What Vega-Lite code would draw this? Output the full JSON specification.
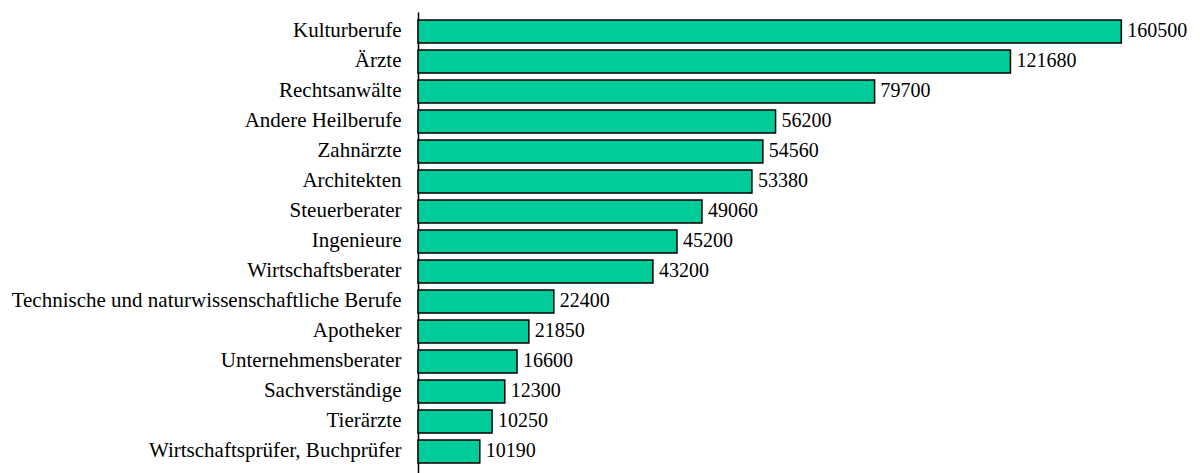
{
  "$schema": "https://vega.github.io/schema/vega-lite/v6.json",
  "width": 780,
  "height": 461,
  "autosize": {"type": "none"},
  "padding": {"left": 418, "top": 12, "right": 2, "bottom": 0},
  "background": "white",
  "config": {"view": {"stroke": null}, "font": "Liberation Serif"},
  "data": {
    "values": [
      {"Beruf": "Kulturberufe", "Anzahl": 160500, "Balken": 160500},
      {"Beruf": "Ärzte", "Anzahl": 121680, "Balken": 135200},
      {"Beruf": "Rechtsanwälte\u00a0", "Anzahl": 79700, "Balken": 104200},
      {"Beruf": "Andere Heilberufe", "Anzahl": 56200, "Balken": 81600},
      {"Beruf": "Zahnärzte", "Anzahl": 54560, "Balken": 78700},
      {"Beruf": "Architekten", "Anzahl": 53380, "Balken": 76200},
      {"Beruf": "Steuerberater", "Anzahl": 49060, "Balken": 64800},
      {"Beruf": "Ingenieure", "Anzahl": 45200, "Balken": 59100},
      {"Beruf": "Wirtschaftsberater", "Anzahl": 43200, "Balken": 53600},
      {"Beruf": "Technische und naturwissenschaftliche Berufe", "Anzahl": 22400, "Balken": 31000},
      {"Beruf": "Apotheker", "Anzahl": 21850, "Balken": 25300},
      {"Beruf": "Unternehmensberater\u00a0", "Anzahl": 16600, "Balken": 22600},
      {"Beruf": "Sachverständige", "Anzahl": 12300, "Balken": 19800},
      {"Beruf": "Tierärzte", "Anzahl": 10250, "Balken": 16900},
      {"Beruf": "Wirtschaftsprüfer, Buchprüfer", "Anzahl": 10190, "Balken": 14100}
    ]
  },
  "encoding": {
    "y": {
      "field": "Beruf",
      "type": "nominal",
      "sort": null,
      "scale": {"paddingInner": 0.233, "paddingOuter": 0.3, "align": 0.44},
      "axis": {
        "title": null,
        "domainColor": "black",
        "domainWidth": 1.5,
        "ticks": false,
        "labelPadding": 17,
        "labelFontSize": 21,
        "labelColor": "black",
        "labelFont": "Liberation Serif",
        "labelLimit": 0
      }
    }
  },
  "layer": [
    {
      "mark": {"type": "bar", "fill": "#00CC99", "stroke": "black", "strokeWidth": 1.5},
      "encoding": {
        "x": {"field": "Balken", "type": "quantitative", "scale": {"domain": [0, 178000], "nice": false}, "axis": null}
      }
    },
    {
      "mark": {"type": "text", "align": "left", "baseline": "middle", "dx": 6, "fontSize": 20, "font": "Liberation Serif", "color": "black"},
      "encoding": {
        "x": {"field": "Balken", "type": "quantitative"},
        "text": {"field": "Anzahl", "type": "quantitative", "format": "d"}
      }
    }
  ]
}
